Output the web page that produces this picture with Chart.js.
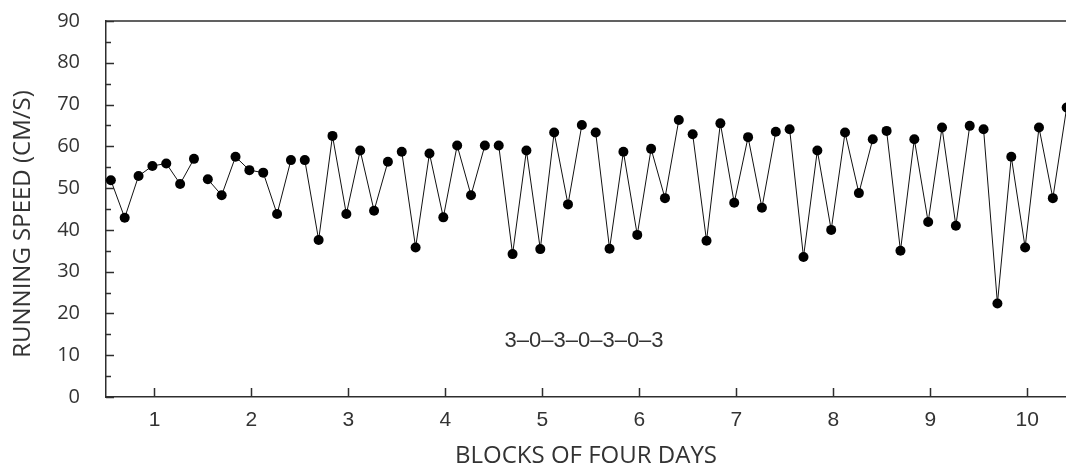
<!DOCTYPE html>
<html>
<head>
<meta charset="utf-8">
<script src="https://cdn.jsdelivr.net/npm/chart.js@4/dist/chart.umd.min.js"></script>
<style>
  html, body { margin: 0; padding: 0; background: #fff; }
  #wrap { width: 1066px; height: 475px; }
</style>
</head>
<body>
<div id="wrap"><canvas id="myChart" width="1066" height="475"></canvas></div>
<script>
// datos
const blocks = [1, 2, 3, 4, 5, 6, 7, 8, 9, 10];
const daysPerBlock = 7;
const speeds = [
  51.9, 42.9, 52.9, 55.3, 55.9, 51.0, 57.0,
  52.1, 48.3, 57.5, 54.3, 53.7, 43.8, 56.7,
  56.7, 37.6, 62.5, 43.8, 59.0, 44.6, 56.3,
  58.7, 35.8, 58.3, 43.0, 60.2, 48.3, 60.2,
  60.2, 34.2, 59.0, 35.4, 63.3, 46.1, 65.1,
  63.3, 35.5, 58.7, 38.8, 59.4, 47.6, 66.3,
  62.9, 37.4, 65.5, 46.5, 62.2, 45.3, 63.5,
  64.1, 33.5, 59.0, 40.0, 63.3, 48.8, 61.7,
  63.7, 35.0, 61.7, 41.9, 64.5, 41.0, 64.9,
  64.1, 22.4, 57.5, 35.8, 64.5, 47.6, 69.3
];
const yTicks = [0, 10, 20, 30, 40, 50, 60, 70, 80, 90];
const scheduleLabel = "3–0–3–0–3–0–3";
const yTitle = "RUNNING SPEED (CM/S)";
const xTitle = "BLOCKS OF FOUR DAYS";

const axisColor = '#2e2e2e';
const textColor = '#333';

// un dataset por bloque, asi no se une la linea entre bloques
const datasets = blocks.map((b, i) => ({
  data: speeds.slice(i * daysPerBlock, (i + 1) * daysPerBlock)
    .map((v, j) => ({ x: b - 0.5 + (j + 0.35) / daysPerBlock, y: v })),
  borderColor: '#111',
  borderWidth: 1,
  backgroundColor: '#000',
  pointRadius: 5,
  pointHoverRadius: 5,
  pointBorderWidth: 0,
  tension: 0,
  clip: false
}));

// ticks hacia adentro, borde superior, titulo y la etiqueta del esquema
const extras = {
  id: 'extras',
  afterDraw(chart) {
    const { ctx, chartArea, scales } = chart;
    const x = scales.x, y = scales.y;
    ctx.save();
    ctx.strokeStyle = axisColor;
    ctx.lineWidth = 1.5;
    ctx.beginPath();
    ctx.moveTo(chartArea.left, chartArea.top);
    ctx.lineTo(chartArea.right, chartArea.top);
    for (let v = 0; v <= 90; v += 5) {
      const py = Math.round(y.getPixelForValue(v)) + 0.5;
      const len = v % 10 === 0 ? 8 : 5;
      ctx.moveTo(chartArea.left, py);
      ctx.lineTo(chartArea.left + len, py);
    }
    blocks.forEach(b => {
      const px = Math.round(x.getPixelForValue(b)) + 0.5;
      ctx.moveTo(px, chartArea.bottom);
      ctx.lineTo(px, chartArea.bottom - 9);
    });
    ctx.stroke();

    ctx.fillStyle = textColor;
    ctx.font = "22px 'Liberation Sans', Arial, sans-serif";
    ctx.textAlign = 'center';
    ctx.textBaseline = 'middle';
    ctx.fillText(scheduleLabel, x.getPixelForValue(5.43), y.getPixelForValue(13.4));

    ctx.font = "24px 'Open Sans', sans-serif";
    ctx.translate(23, 224);
    ctx.rotate(-Math.PI / 2);
    ctx.fillText(yTitle, 0, 0);
    ctx.restore();
  }
};

const myChart = new Chart('myChart', {
  type: 'line',
  data: { datasets },
  options: {
    responsive: false,
    animation: false,
    layout: { autoPadding: false, padding: { top: 21, right: 0, left: 0, bottom: 0 } },
    plugins: {
      legend: { display: false },
      tooltip: { enabled: false }
    },
    scales: {
      x: {
        type: 'linear',
        min: 0.5,
        max: 10.4,
        afterBuildTicks: (scale) => { scale.ticks = blocks.map(v => ({ value: v })); },
        afterFit: (scale) => {
          scale.height = 78;
          scale.paddingLeft = 0;
          scale.paddingRight = 0;
        },
        grid: { display: false, drawTicks: false },
        border: { display: true, color: axisColor, width: 1.5 },
        ticks: {
          padding: 11,
          color: textColor,
          font: { family: "'Liberation Sans', Arial, sans-serif", size: 21 }
        },
        title: {
          display: true,
          text: xTitle,
          color: textColor,
          font: { family: "'Open Sans', sans-serif", size: 24 },
          padding: { top: 8 }
        }
      },
      y: {
        min: 0,
        max: 90,
        afterBuildTicks: (scale) => { scale.ticks = yTicks.map(v => ({ value: v })); },
        afterFit: (scale) => {
          scale.width = 106;
          scale.paddingTop = 0;
          scale.paddingBottom = 0;
        },
        grid: { display: false, drawTicks: false },
        border: { display: true, color: axisColor, width: 1.5 },
        ticks: {
          padding: 26,
          color: textColor,
          font: { family: "'Open Sans', sans-serif", size: 20 }
        }
      }
    }
  },
  plugins: [extras]
});
</script>
</body>
</html>
